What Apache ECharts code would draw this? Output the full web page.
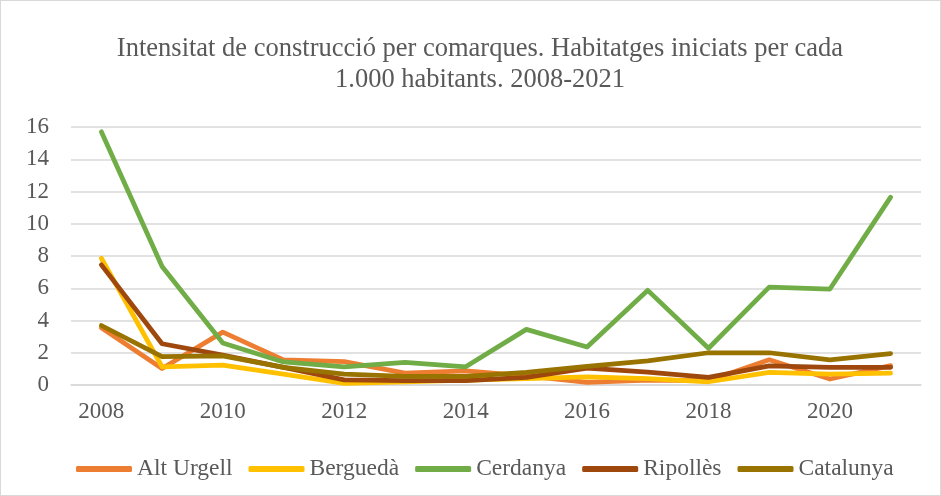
<!DOCTYPE html>
<html>
<head>
<meta charset="utf-8">
<script src="https://cdn.jsdelivr.net/npm/echarts@6/dist/echarts.min.js"></script>
<style>
  html, body { margin: 0; padding: 0; background: #fff; }
  #chart { width: 939px; height: 494px; border: 1px solid #d9d9d9; }
</style>
</head>
<body>
<div id="chart"></div>
<script>
var years = ['2008', '2009', '2010', '2011', '2012', '2013', '2014', '2015', '2016', '2017', '2018', '2019', '2020', '2021'];

var altUrgell = [3.55, 1.02, 3.28, 1.56, 1.45, 0.74, 0.88, 0.57, 0.16, 0.3, 0.27, 1.56, 0.37, 1.2];
var bergueda  = [7.86, 1.13, 1.23, 0.68, 0.1, 0.2, 0.3, 0.4, 0.5, 0.4, 0.2, 0.78, 0.68, 0.74];
var cerdanya  = [15.7, 7.35, 2.6, 1.43, 1.13, 1.4, 1.13, 3.45, 2.36, 5.87, 2.28, 6.07, 5.95, 11.65];
var ripolles  = [7.45, 2.56, 1.85, 1.09, 0.32, 0.27, 0.27, 0.47, 1.05, 0.8, 0.47, 1.19, 1.1, 1.1];
var catalunya = [3.69, 1.76, 1.81, 1.09, 0.68, 0.53, 0.53, 0.78, 1.15, 1.5, 2.0, 2.0, 1.56, 1.95];

var yTicks = { min: 0, max: 16, interval: 2 };

var serif = '"Liberation Serif", "DejaVu Serif", serif';
var grey = '#595959';

function mkLine(name, data, color) {
    return {
        name: name,
        type: 'line',
        data: data,
        symbol: 'none',
        smooth: false,
        lineStyle: { width: 4.75, color: color, cap: 'round', join: 'round' },
        itemStyle: { color: color }
    };
}

var option = {
    animation: false,
    title: {
        text: 'Intensitat de construcció per comarques. Habitatges iniciats per cada\n1.000 habitants. 2008-2021',
        left: 474,
        textAlign: 'center',
        top: 28,
        textStyle: {
            fontFamily: serif,
            fontSize: 26.5,
            fontWeight: 'normal',
            color: grey,
            lineHeight: 31
        }
    },
    legend: {
        top: 451,
        left: 70,
        itemWidth: 56,
        itemHeight: 6,
        itemGap: 16,
        icon: 'roundRect',
        textStyle: { fontFamily: serif, fontSize: 23.5, color: grey },
        data: ['Alt Urgell', 'Berguedà', 'Cerdanya', 'Ripollès', 'Catalunya']
    },
    grid: { left: 70, right: 19, top: 126, bottom: 110 },
    xAxis: {
        type: 'category',
        data: years,
        boundaryGap: true,
        axisLine: { show: true, lineStyle: { color: '#d9d9d9', width: 1.5 } },
        axisTick: { show: false },
        axisLabel: { interval: 1, margin: 15, fontFamily: serif, fontSize: 23, color: grey }
    },
    yAxis: {
        type: 'value',
        min: yTicks.min,
        max: yTicks.max,
        interval: yTicks.interval,
        axisLine: { show: false },
        axisTick: { show: false },
        splitLine: { lineStyle: { color: '#d9d9d9', width: 1.5 } },
        axisLabel: { margin: 22, fontFamily: serif, fontSize: 23, color: grey }
    },
    series: [
        mkLine('Alt Urgell', altUrgell, '#ED7D31'),
        mkLine('Berguedà', bergueda, '#FFC000'),
        mkLine('Cerdanya', cerdanya, '#70AD47'),
        mkLine('Ripollès', ripolles, '#9E480E'),
        mkLine('Catalunya', catalunya, '#997300')
    ]
};

var chart = echarts.init(document.getElementById('chart'));
chart.setOption(option);
</script>
</body>
</html>
